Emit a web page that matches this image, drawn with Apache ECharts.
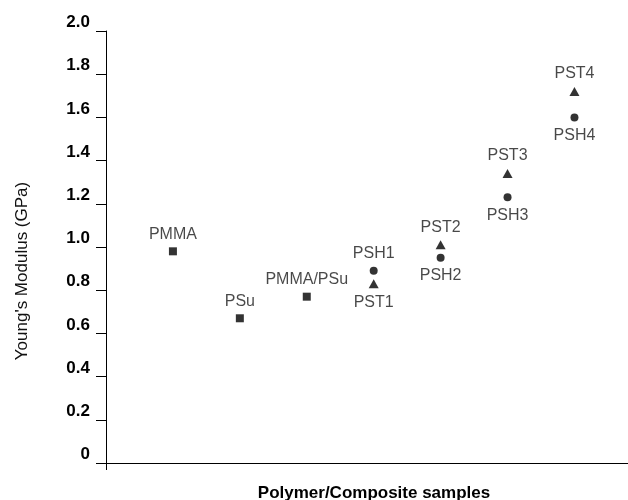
<!DOCTYPE html>
<html>
<head>
<meta charset="utf-8">
<script src="https://cdn.jsdelivr.net/npm/echarts@6/dist/echarts.min.js"></script>
<style>html,body{margin:0;padding:0;background:#fff;}#c{width:628px;height:500px;}</style>
</head>
<body>
<div id="c"></div>
<script>
// Data
var polymerNames = ['PMMA', 'PSu', 'PMMA/PSu'];
var polymerPos = [1, 2, 3];
var polymerValues = [0.98, 0.67, 0.77];

var compositePos = [4, 5, 6, 7];
var pshNames = ['PSH1', 'PSH2', 'PSH3', 'PSH4'];
var pshValues = [0.89, 0.95, 1.23, 1.60];
var pstNames = ['PST1', 'PST2', 'PST3', 'PST4'];
var pstValues = [0.83, 1.01, 1.34, 1.72];

var yTicks = [0, 0.2, 0.4, 0.6, 0.8, 1.0, 1.2, 1.4, 1.6, 1.8, 2.0];

var font = 'Liberation Sans, Arial, sans-serif';
var labelStyle = { show: true, fontFamily: font, fontSize: 16, color: '#1a1a1a', distance: 5 };

var polyData = polymerValues.map(function (v, i) {
  return { value: [polymerPos[i], v], name: polymerNames[i] };
});
var pshData = pshValues.map(function (v, i) {
  var top = v > pstValues[i];
  return { value: [compositePos[i], v], name: pshNames[i],
    label: { position: top ? 'top' : 'bottom', distance: top ? 5 : 6 } };
});
var pstData = pstValues.map(function (v, i) {
  var top = v > pshValues[i];
  return { value: [compositePos[i], v], name: pstNames[i],
    label: { position: top ? 'top' : 'bottom', distance: top ? 5 : 6 } };
});

var chart = echarts.init(document.getElementById('c'), null, { renderer: 'canvas' });
chart.setOption({
  animation: false,
  backgroundColor: '#fff',
  grid: { left: 106, right: 0, top: 31, bottom: 37, containLabel: false, outerBoundsMode: 'none' },
  xAxis: {
    type: 'value', min: 0, max: 7.8,
    name: 'Polymer/Composite samples', nameLocation: 'middle', nameGap: 22,
    nameTextStyle: { fontFamily: font, fontSize: 17, fontWeight: 'bold', color: '#000', verticalAlign: 'top', padding: [0, 0, 0, 14] },
    axisLine: { show: true, lineStyle: { color: '#000', width: 1 } },
    axisTick: { show: true, customValues: [0], length: 7, lineStyle: { color: '#000' } },
    axisLabel: { show: false },
    splitLine: { show: false }
  },
  yAxis: {
    type: 'value', min: 0, max: 2, interval: 0.2,
    name: "Young's Modulus (GPa)", nameLocation: 'middle', nameGap: 75,
    nameTextStyle: { fontFamily: font, fontSize: 17, color: '#111', padding: [0, 48, 0, 0] },
    axisLine: { show: true, lineStyle: { color: '#000', width: 1 } },
    axisTick: { show: true, length: 10, lineStyle: { color: '#000' } },
    axisLabel: {
      fontFamily: font, fontSize: 17, fontWeight: 'bold', color: '#000', margin: 16,
      verticalAlign: 'bottom',
      formatter: function (v) {
        for (var i = 0; i < yTicks.length; i++) {
          if (Math.abs(yTicks[i] - v) < 1e-6) return v === 0 ? '0' : yTicks[i].toFixed(1);
        }
        return '';
      }
    },
    splitLine: { show: false }
  },
  series: [
    {
      type: 'scatter', data: polyData, symbol: 'rect', symbolSize: 8,
      itemStyle: { color: '#000' },
      label: Object.assign({ position: 'top', formatter: '{b}' }, labelStyle)
    },
    {
      type: 'scatter', data: pshData, symbol: 'circle', symbolSize: 8,
      itemStyle: { color: '#000' },
      label: Object.assign({ formatter: '{b}' }, labelStyle)
    },
    {
      type: 'scatter', data: pstData, symbol: 'triangle', symbolSize: [10, 9],
      itemStyle: { color: '#000' },
      label: Object.assign({ formatter: '{b}' }, labelStyle)
    }
  ]
});
</script>
</body>
</html>
